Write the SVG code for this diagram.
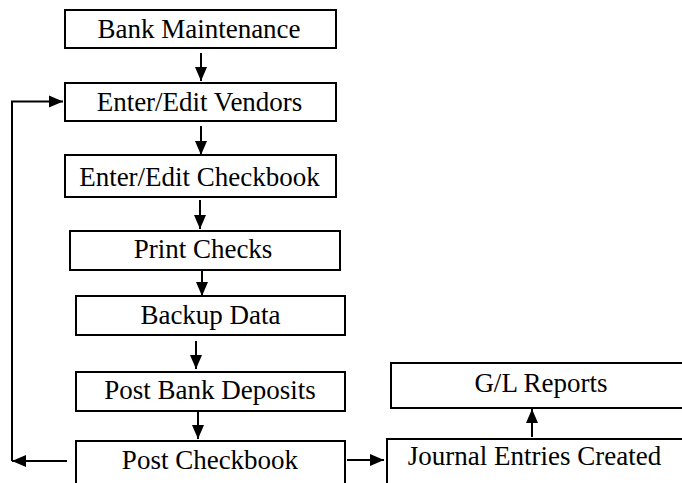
<svg xmlns="http://www.w3.org/2000/svg" width="682" height="483" viewBox="0 0 682 483">
<defs>
<style>
.box{fill:#fff;stroke:#000;stroke-width:2}
.lbl{font-family:"Liberation Serif","Times New Roman",serif;font-size:27px;fill:#000;text-anchor:middle}
.con{fill:none;stroke:#000;stroke-width:2}
</style>
<marker id="ah" markerUnits="userSpaceOnUse" markerWidth="14" markerHeight="14" viewBox="0 0 14 14" refX="14" refY="7" orient="auto">
<path d="M0,1 L14,7 L0,13 Z" fill="#000"/>
</marker>
</defs>
<rect width="682" height="483" fill="#fff"/>
<g id="n1"><rect class="box" x="65" y="10" width="271" height="38"/><text class="lbl" x="199" y="38">Bank Maintenance</text></g>
<g id="n2"><rect class="box" x="65" y="83" width="271" height="38"/><text class="lbl" x="199.5" y="111">Enter/Edit Vendors</text></g>
<g id="n3"><rect class="box" x="65" y="155" width="271" height="42"/><text class="lbl" x="199.5" y="186">Enter/Edit Checkbook</text></g>
<g id="n4"><rect class="box" x="70" y="231" width="270" height="39"/><text class="lbl" x="203" y="258">Print Checks</text></g>
<g id="n5"><rect class="box" x="76" y="296" width="269" height="39"/><text class="lbl" x="210.5" y="324">Backup Data</text></g>
<g id="n6"><rect class="box" x="76" y="372" width="269" height="39"/><text class="lbl" x="210" y="399">Post Bank Deposits</text></g>
<g id="n7"><rect class="box" x="76" y="441" width="269" height="50"/><text class="lbl" x="210" y="469">Post Checkbook</text></g>
<g id="n8"><rect class="box" x="387" y="439" width="310" height="50"/><text class="lbl" x="534.5" y="465">Journal Entries Created</text></g>
<g id="n9"><rect class="box" x="391" y="363" width="306" height="45"/><text class="lbl" x="541" y="392">G/L Reports</text></g>
<g id="connectors">
<line class="con" x1="201" y1="53" x2="201" y2="81" marker-end="url(#ah)"/>
<line class="con" x1="201" y1="126" x2="201" y2="155" marker-end="url(#ah)"/>
<line class="con" x1="200" y1="200" x2="200" y2="229" marker-end="url(#ah)"/>
<line class="con" x1="202" y1="270" x2="202" y2="296" marker-end="url(#ah)"/>
<line class="con" x1="196" y1="341" x2="196" y2="369" marker-end="url(#ah)"/>
<line class="con" x1="198" y1="411" x2="198" y2="439" marker-end="url(#ah)"/>
<line class="con" x1="532" y1="437" x2="532" y2="409" marker-end="url(#ah)"/>
<line class="con" x1="347" y1="460" x2="384" y2="460" marker-end="url(#ah)"/>
<line class="con" x1="67" y1="461" x2="12" y2="461" marker-end="url(#ah)"/>
<polyline class="con" points="12,461 12,101.5 63,101.5" marker-end="url(#ah)"/>
</g>
</svg>
